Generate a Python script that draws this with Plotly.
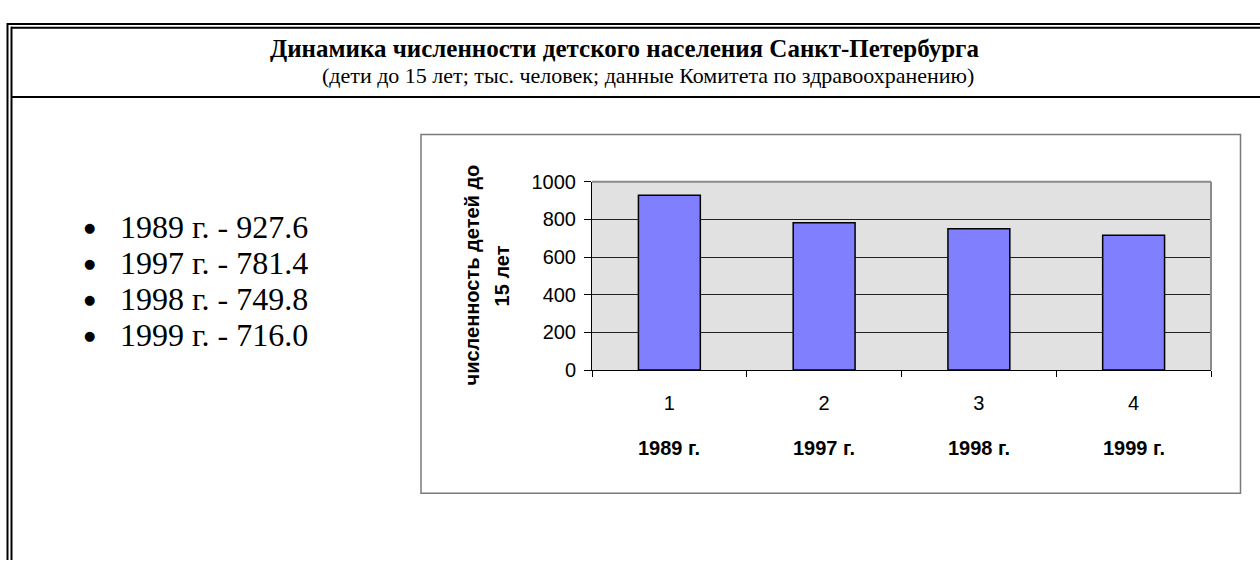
import plotly.graph_objects as go

# ---- data ----
categories = ["1", "2", "3", "4"]
years = ["1989 г.", "1997 г.", "1998 г.", "1999 г."]
values = [927.6, 781.4, 749.8, 716.0]
value_labels = ["927.6", "781.4", "749.8", "716.0"]
y_ticks = [0, 200, 400, 600, 800, 1000]

title = "Динамика численности детского населения Санкт-Петербурга"
subtitle = "(дети до 15 лет; тыс. человек; данные Комитета по здравоохранению)"
y_title_lines = ["численность детей до", "15 лет"]

W, H = 1260, 571
SERIF = "Times New Roman, Liberation Serif, serif"
SANS = "Arial, Liberation Sans, sans-serif"


def px(x):
    return x / W


def py(y):
    return 1 - y / H


fig = go.Figure()
fig.add_trace(go.Bar(
    x=categories, y=values,
    marker=dict(color="#8080FF", line=dict(color="#000000", width=1.5)),
    width=0.4,
    hoverinfo="skip",
))

fig.update_layout(
    width=W, height=H,
    margin=dict(l=0, r=0, t=0, b=0),
    paper_bgcolor="white",
    plot_bgcolor="#E1E1E1",
    showlegend=False,
    xaxis=dict(
        domain=[px(592), px(1211)],
        type="category",
        tickson="boundaries",
        ticks="outside", ticklen=6, tickcolor="black", tickwidth=1,
        ticklabelstandoff=15,
        showline=True, linecolor="black", linewidth=1,
        showgrid=False, zeroline=False,
        tickfont=dict(family=SANS, size=20, color="black"),
        range=[-0.5, 3.5],
        fixedrange=True,
    ),
    yaxis=dict(
        domain=[py(373.5), py(177.5)],
        range=[0, 1000],
        tickmode="array", tickvals=y_ticks,
        ticks="outside", ticklen=7, tickcolor="black", tickwidth=1,
        ticklabelstandoff=4,
        showline=True, linecolor="black", linewidth=1,
        showgrid=True, gridcolor="#222222", gridwidth=1,
        zeroline=False,
        tickfont=dict(family=SANS, size=20, color="black"),
        fixedrange=True,
    ),
)

shapes = []
blk = dict(color="black", width=2)
# double outer border (top and left)
shapes.append(dict(type="line", xref="paper", yref="paper", x0=px(7), x1=1, y0=py(13.5), y1=py(13.5), line=blk))
shapes.append(dict(type="line", xref="paper", yref="paper", x0=px(11), x1=1, y0=py(17.5), y1=py(17.5), line=blk))
shapes.append(dict(type="line", xref="paper", yref="paper", x0=px(7.5), x1=px(7.5), y0=py(12.5), y1=0, line=blk))
shapes.append(dict(type="line", xref="paper", yref="paper", x0=px(11.5), x1=px(11.5), y0=py(16.5), y1=0, line=blk))
# title separator
shapes.append(dict(type="line", xref="paper", yref="paper", x0=px(11), x1=1, y0=py(89.5), y1=py(89.5), line=blk))
# chart box
shapes.append(dict(type="rect", xref="paper", yref="paper", x0=px(421), x1=px(1240.5), y0=py(501.5), y1=py(128.5),
                   line=dict(color="#7a7a7a", width=1.5), layer="below"))
# plot area top and right border
gry = dict(color="#8a8a8a", width=2)
shapes.append(dict(type="line", xref="x domain", yref="y domain", x0=0, x1=1, y0=1, y1=1, line=gry))
shapes.append(dict(type="line", xref="x domain", yref="y domain", x0=1, x1=1, y0=0, y1=1, line=gry))
fig.update_layout(shapes=shapes)

ann = []
ann.append(dict(text=f"<b>{title}</b>", xref="paper", yref="paper", x=px(624), y=py(39),
                showarrow=False, xanchor="center", yanchor="middle",
                font=dict(family=SERIF, size=25, color="black")))
ann.append(dict(text=subtitle, xref="paper", yref="paper", x=px(648), y=py(67),
                showarrow=False, xanchor="center", yanchor="middle",
                font=dict(family=SERIF, size=22, color="black")))
# y axis title, two rotated lines
for line_text, xc in zip(y_title_lines, [472, 502]):
    ann.append(dict(text=f"<b>{line_text}</b>", xref="paper", yref="paper", x=px(xc), y=py(275),
                    showarrow=False, xanchor="center", yanchor="middle", textangle=-90,
                    font=dict(family=SANS, size=20, color="black")))
# year labels under the category numbers
for i, yr in enumerate(years):
    ann.append(dict(text=f"<b>{yr}</b>", xref="x", yref="paper", x=i, y=py(455),
                    showarrow=False, xanchor="center", yanchor="middle",
                    font=dict(family=SANS, size=20, color="black")))
# bullet list
for i, (yr, v) in enumerate(zip(years, value_labels)):
    yc = 225 + i * 37.5
    ann.append(dict(text="●", xref="paper", yref="paper", x=px(89), y=py(yc),
                    showarrow=False, xanchor="center", yanchor="middle",
                    font=dict(family="DejaVu Sans", size=13, color="black")))
    ann.append(dict(text=f"{yr} - {v}", xref="paper", yref="paper", x=px(118), y=py(yc),
                    showarrow=False, xanchor="left", yanchor="middle",
                    font=dict(family=SERIF, size=32, color="black")))
fig.update_layout(annotations=ann)

post = (
    "document.documentElement.style.margin='0';"
    "document.body.style.margin='0';"
    "document.body.style.overflow='hidden';"
)

fig.write_html("out.html", config={"displayModeBar": False, "staticPlot": True}, post_script=post)
